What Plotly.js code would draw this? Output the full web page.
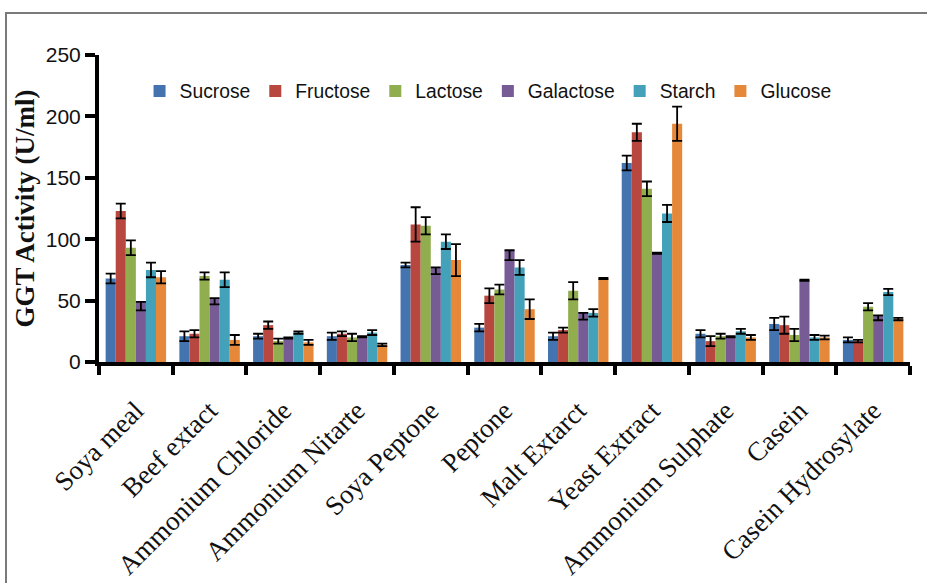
<!DOCTYPE html>
<html>
<head>
<meta charset="utf-8">
<script src="https://cdn.plot.ly/plotly-3.0.1.min.js"></script>
<style>
  html, body { margin: 0; padding: 0; background: #fff; }
  #wrap { position: relative; width: 927px; height: 583px; overflow: hidden; }
  #chart { width: 927px; height: 583px; }
  #frame { position: absolute; left: 5px; top: 12px; width: 1000px; height: 1000px;
           border-top: 2px solid #7a7a7a; border-left: 2px solid #7a7a7a; pointer-events: none; }
</style>
</head>
<body>
<div id="wrap">
  <div id="chart"></div>
  <div id="frame"></div>
</div>
<script>
const categories = ["Soya meal", "Beef extact", "Ammonium Chloride", "Ammonium Nitarte", "Soya Peptone",
  "Peptone", "Malt Extarct", "Yeast Extract", "Ammonium Sulphate", "Casein", "Casein Hydrosylate"];

const sucrose      = [68, 21, 21, 21, 79, 28, 21, 162, 23, 31, 18];
const sucroseErr   = [4, 4, 2, 3, 2, 3, 3, 6, 3, 5, 2];
const fructose     = [123, 23, 30, 23, 112, 54, 26, 187, 17, 30, 17];
const fructoseErr  = [6, 3, 3, 2, 14, 6, 2, 7, 4, 7, 1];
const lactose      = [93, 70, 17, 20, 111, 59, 58, 141, 21, 22, 45];
const lactoseErr   = [6, 3, 2, 3, 7, 4, 7, 6, 2, 5, 3];
const galactose    = [49, 52, 20, 21, 77, 91, 40, 89, 21, 67, 38];
const galactoseErr = [7, 5, 1, 1, 5.5, 8, 5.5, 1, 1, 1, 4];
const starch       = [75, 67, 24, 24, 98, 77, 40, 121, 25, 20, 57];
const starchErr    = [6, 6, 1, 2, 6, 6, 3, 7, 2, 2, 2.5];
const glucose      = [69, 18, 16, 14, 83, 43, 68, 194, 20, 20, 35];
const glucoseErr   = [5, 4, 2, 1, 13, 8, 0.5, 14, 2, 1.5, 1];

const seriesNames  = ["Sucrose", "Fructose", "Lactose", "Galactose", "Starch", "Glucose"];
const seriesColors = ["#4374b0", "#b7473f", "#91ae4f", "#765b95", "#43a1ba", "#e5883a"];

function errBar(arr, minusOnly) {
  const e = { type: "data", visible: true, color: "#000", thickness: 1.8, width: 5 };
  if (minusOnly) { e.symmetric = false; e.array = arr.map(() => 0); e.arrayminus = arr; }
  else { e.symmetric = true; e.array = arr; }
  return e;
}

const values = [sucrose, fructose, lactose, galactose, starch, glucose];
const errors = [sucroseErr, fructoseErr, lactoseErr, galactoseErr, starchErr, glucoseErr];

const traces = seriesNames.map((name, i) => ({
  type: "bar",
  name: name,
  x: categories,
  y: values[i],
  marker: { color: seriesColors[i], line: { width: 0 } },
  error_y: errBar(errors[i], name === "Galactose")
}));

const layout = {
  width: 927, height: 583,
  paper_bgcolor: "#fff", plot_bgcolor: "#fff",
  margin: { l: 99, r: 17, t: 55, b: 221 },
  barmode: "group", bargap: 0.18, bargroupgap: 0,
  showlegend: true,
  legend: {
    orientation: "h", x: 0.05, xanchor: "left", y: 0.945, yanchor: "top",
    font: { family: "Liberation Sans, Arial, sans-serif", size: 19.3, color: "#111" },
    bgcolor: "rgba(0,0,0,0)", traceorder: "normal"
  },
  xaxis: {
    type: "category",
    showline: true, linecolor: "#000", linewidth: 4,
    ticks: "outside", tickson: "boundaries", ticklen: 9, tickwidth: 4, tickcolor: "#000",
    tickangle: -45, ticklabelstandoff: 18,
    tickfont: { family: "Liberation Serif, Times New Roman, serif", size: 27, color: "#111" },
    showgrid: false, zeroline: false, automargin: false
  },
  yaxis: {
    range: [0, 250], dtick: 50, tick0: 0,
    showline: true, linecolor: "#000", linewidth: 4,
    ticks: "outside", ticklen: 10, tickwidth: 4, tickcolor: "#000",
    tickfont: { family: "Liberation Sans, Arial, sans-serif", size: 21, color: "#111" },
    showgrid: false, zeroline: false, automargin: false,
    title: { text: "GGT Activity (U/ml)", standoff: 4,
      font: { family: "Liberation Serif, Times New Roman, serif", size: 27, color: "#111", weight: "bold" } }
  }
};

Plotly.newPlot("chart", traces, layout, { displayModeBar: false, staticPlot: true });
</script>
</body>
</html>
